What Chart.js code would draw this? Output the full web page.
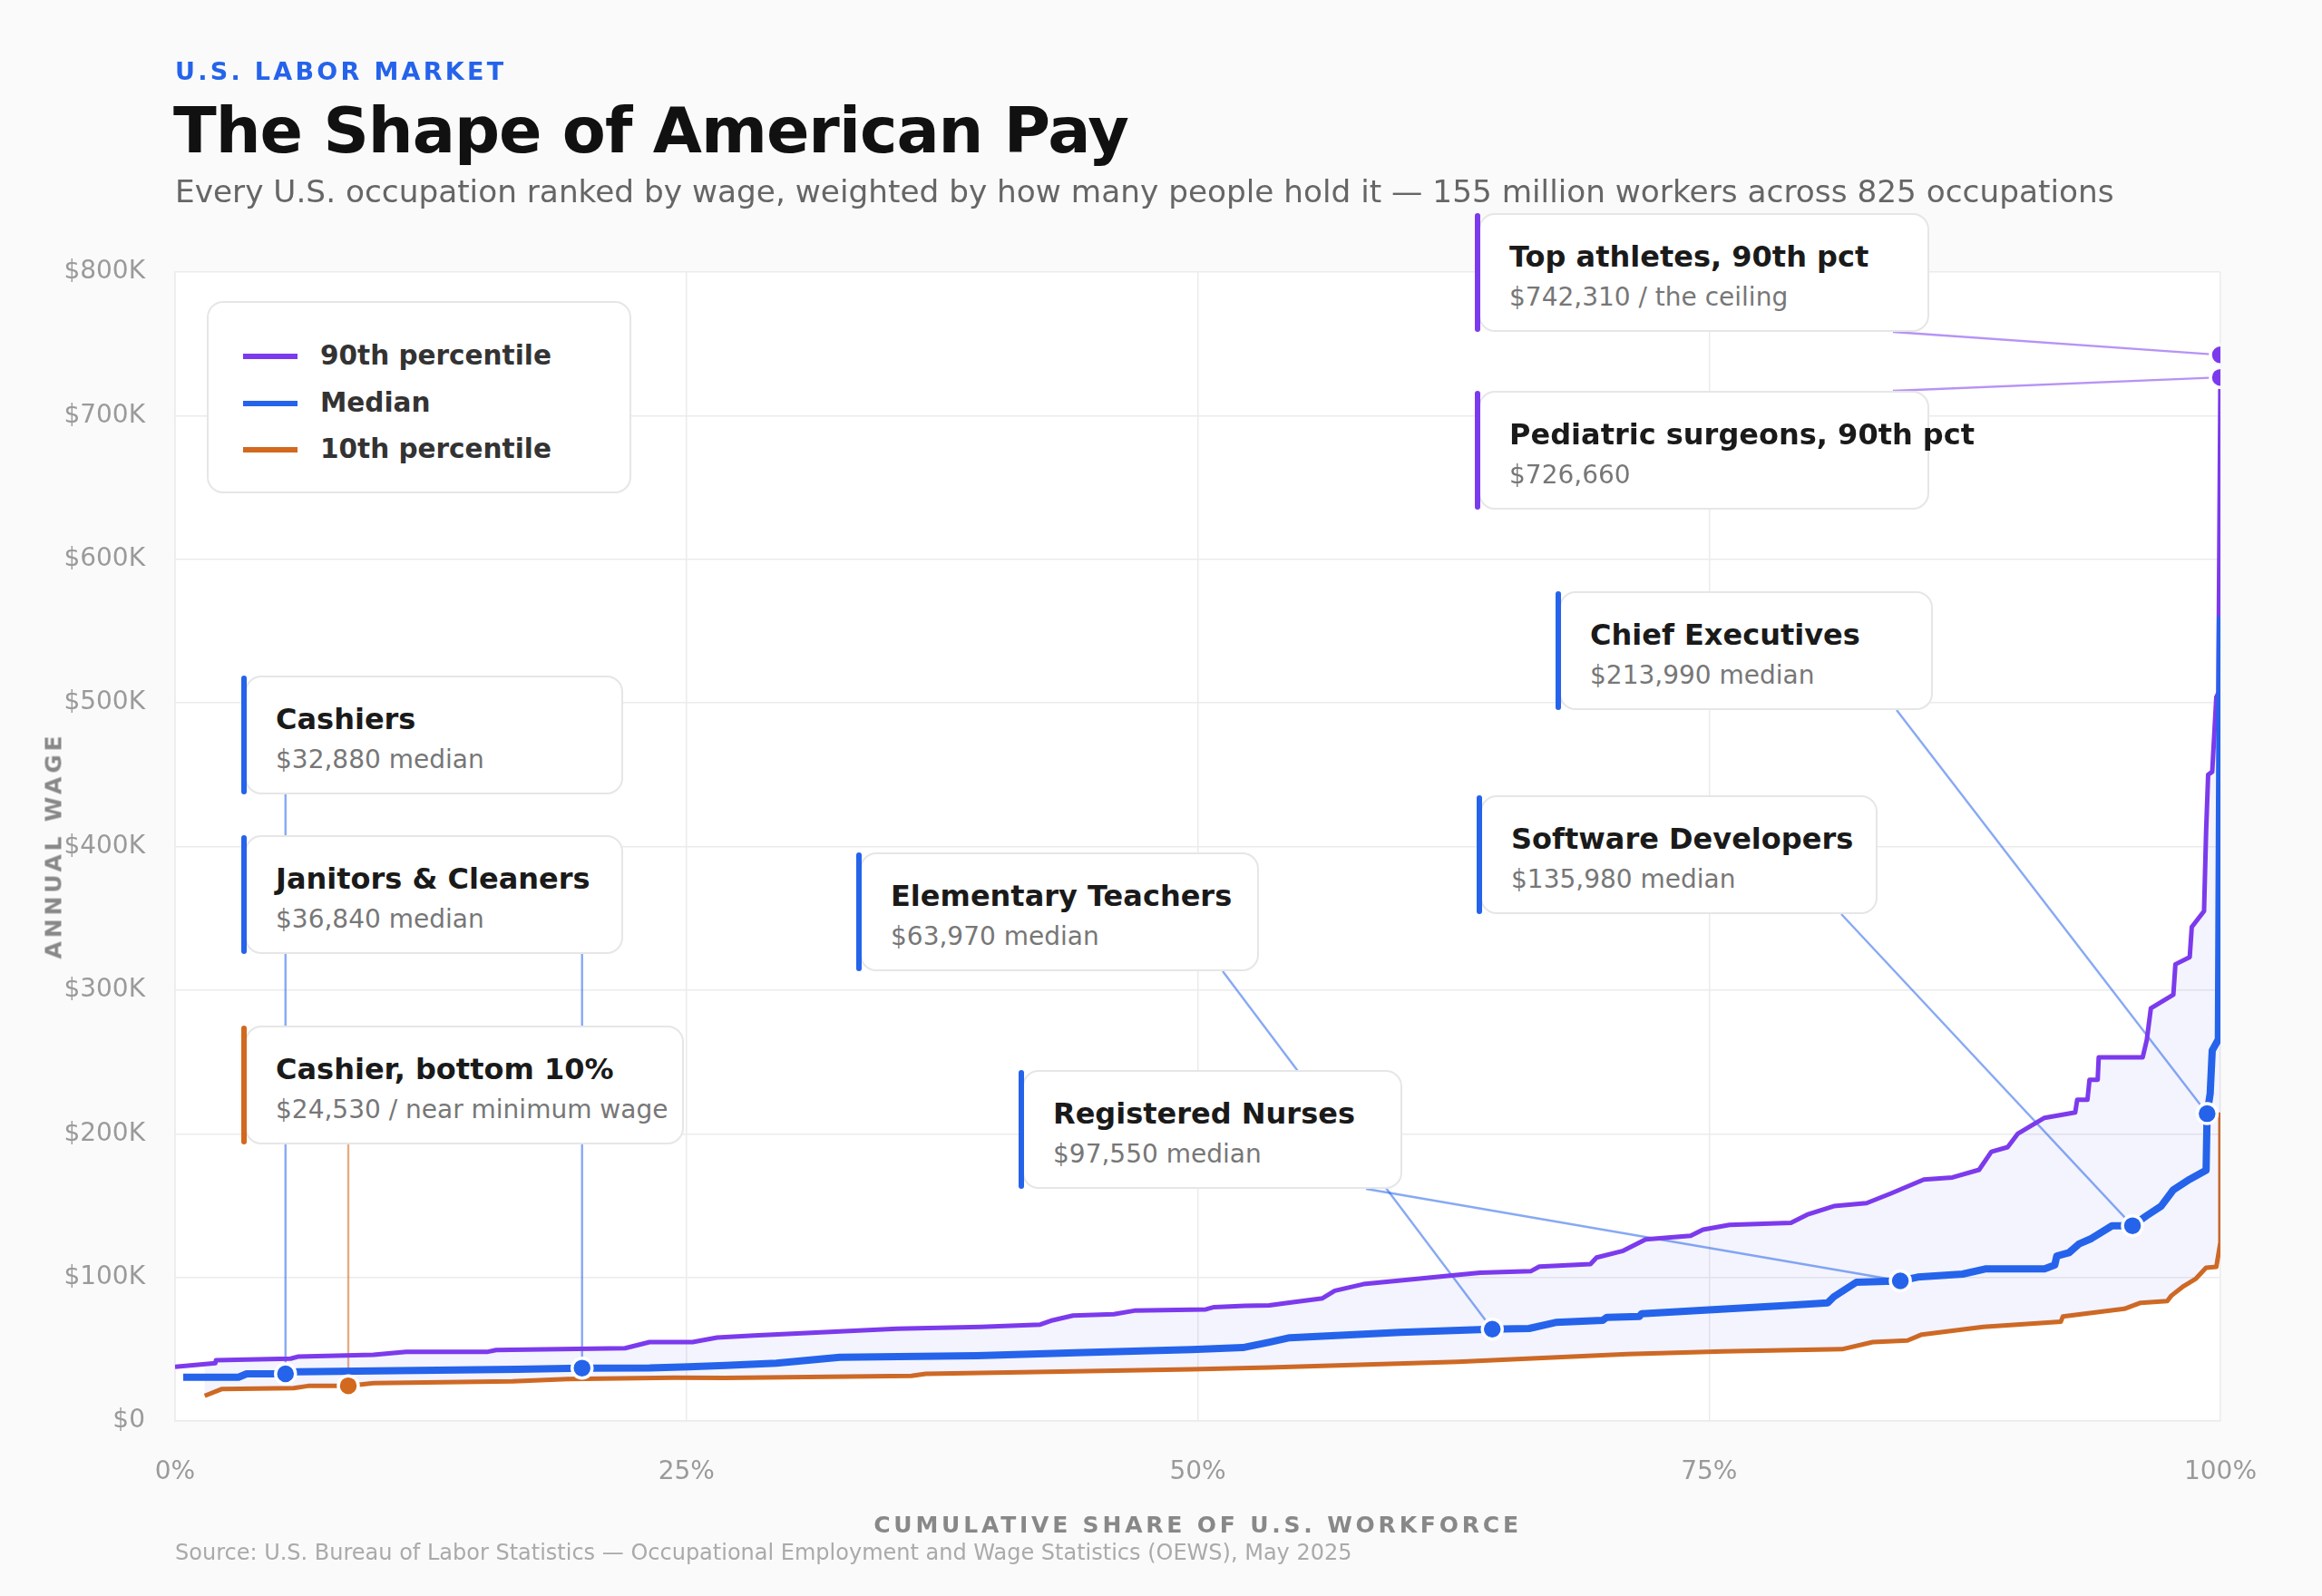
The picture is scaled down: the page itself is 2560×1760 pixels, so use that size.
<!DOCTYPE html>
<html>
<head>
<meta charset="utf-8">
<title>The Shape of American Pay</title>
<script src="https://cdn.jsdelivr.net/npm/chart.js@4.4.1/dist/chart.umd.min.js"></script>
<style>
  body { margin: 0; background: #fafafa; font-family: "DejaVu Sans", sans-serif; }
  #page { position: relative; width: 2560px; height: 1760px; overflow: hidden; }
  canvas { position: absolute; left: 0; top: 0; }
  .abs { position: absolute; white-space: nowrap; line-height: 1; }
  #eyebrow { left: 193px; top: 65px; font-size: 27px; font-weight: bold; color: #2563eb; letter-spacing: 3.3px; }
  #title { left: 191px; top: 109px; font-size: 70px; font-weight: bold; color: #111; letter-spacing: -1px; }
  #subtitle { left: 193px; top: 194px; font-size: 34.3px; color: #666; }
  #source { left: 193px; top: 1700px; font-size: 24px; color: #aaa; }
  #xtitle { left: 193px; width: 2255px; text-align: center; top: 1669px; font-size: 25px; font-weight: bold; color: #888; letter-spacing: 3.8px; }
  #ytitle { left: -141px; width: 400px; text-align: center; top: 920px; font-size: 25px; font-weight: bold; color: #888; letter-spacing: 3.8px; transform: rotate(-90deg); }

  #legend { position: absolute; left: 228px; top: 332px; width: 468px; height: 212px; box-sizing: border-box;
            background: #fff; border: 2px solid #e6e6e6; border-radius: 18px; }
  #legend .sw { position: absolute; left: 38px; width: 60px; height: 6px; }
  #legend .lb { position: absolute; left: 123px; font-size: 29.5px; font-weight: bold; color: #333; line-height: 1; white-space: nowrap; }

  .note { position: absolute; height: 131px; }
  .note .card { position: absolute; left: 4px; right: 0; top: 0; bottom: 0; box-sizing: border-box;
                background: #fff; border: 2px solid #e6e6e6; border-radius: 18px; }
  .note .bar { position: absolute; left: 0; top: 0; width: 6px; height: 100%; border-radius: 3px; }
  .note .t { position: absolute; left: 38px; top: 32px; font-size: 32px; font-weight: bold; color: #1a1a1a; line-height: 1; white-space: nowrap; }
  .note .s { position: absolute; left: 38px; top: 79px; font-size: 28px; color: #777; line-height: 1; white-space: nowrap; }
</style>
</head>
<body>
<div id="page">
  <canvas id="myChart" width="2560" height="1760"></canvas>

  <div id="eyebrow" class="abs">U.S. LABOR MARKET</div>
  <div id="title" class="abs">The Shape of American Pay</div>
  <div id="subtitle" class="abs">Every U.S. occupation ranked by wage, weighted by how many people hold it — 155 million workers across 825 occupations</div>

  <div id="legend"></div>

  <div id="xtitle" class="abs">CUMULATIVE SHARE OF U.S. WORKFORCE</div>
  <div id="ytitle" class="abs">ANNUAL WAGE</div>
  <div id="source" class="abs">Source: U.S. Bureau of Labor Statistics — Occupational Employment and Wage Statistics (OEWS), May 2025</div>
</div>

<script>
// cumulative share of workforce (%) and wage ($K) for each curve
const p90Share = [0, 1.97, 2.0, 5.65, 6.0, 9.7, 11.3, 15.3, 15.7, 22.0, 23.2, 25.3, 26.5, 28.3, 35.3, 39.4, 42.3, 42.9, 43.9, 45.9,
  46.9, 50.4, 50.8, 52.3, 53.5, 54.4, 56.1, 56.7, 58.1, 63.8, 66.3, 66.7, 69.2, 69.5, 70.8, 71.9, 74.1, 74.7, 76.0, 79.0,
  79.8, 81.1, 82.7, 83.9, 85.5, 86.9, 88.2, 88.8, 89.6, 90.1, 91.4, 92.9, 93.0, 93.5, 93.6, 94.0, 94.05, 96.2, 96.4, 96.6,
  97.7, 97.8, 98.5, 98.6, 99.2, 99.3, 99.4, 99.6, 99.8, 99.9, 100, 100]
const p90Wage = [37.7, 40.2, 42.3, 43.4, 44.8, 46.1, 48.2, 48.2, 49.4, 50.7, 54.9, 54.9, 58.1, 59.5, 64.2, 65.5, 67.1, 70.1, 73.4, 74.3,
  76.8, 77.7, 79.3, 80.2, 80.5, 82.3, 85.4, 90.7, 95.3, 103.3, 104.4, 107.5, 109.2, 113.8, 118.5, 126.5, 129.0, 133.2, 136.5, 138.0,
  143.7, 149.6, 151.7, 158.5, 168.1, 169.6, 174.9, 187.5, 190.7, 200.1, 211.1, 214.8, 223.7, 223.7, 237.6, 237.6, 253.2, 253.2, 265.3, 287.4,
  296.9, 318, 323, 344, 355, 410, 450, 452, 504, 507, 726.66, 742.31]

const medShare = [0.4, 3.1, 3.5, 5.4, 6.0, 16.7, 19.9, 23.2, 25.1, 26.9, 29.4, 32.5, 39.2, 44.4, 49.7, 52.2, 53.5, 54.5, 59.9, 64.4,
  66.2, 67.5, 69.8, 70.0, 71.6, 71.7, 74.6, 78.5, 80.8, 81.1, 82.2, 84.35, 85.2, 87.4, 88.5, 91.4, 91.9, 92.0, 92.6, 93.1,
  93.7, 94.7, 95.7, 96.4, 97.1, 97.7, 98.5, 99.3, 99.35, 99.5, 99.6, 99.9, 100]
const medWage = [30.5, 30.5, 32.8, 32.88, 34.3, 36.0, 36.84, 37.0, 37.7, 38.7, 40.2, 44.4, 45.5, 47.6, 49.7, 51.1, 54.9, 58.0, 61.7, 63.97,
  64.4, 68.6, 70.1, 72.2, 72.8, 74.7, 77.0, 80.2, 82.3, 86.5, 96.6, 97.55, 100.2, 102.3, 105.9, 105.9, 108.6, 114.9, 117.2, 123.4,
  127.1, 135.9, 135.98, 143, 149.6, 161, 168.3, 174.6, 213.99, 228, 258, 265.7, 560]

const p10Share = [1.45, 2.3, 5.8, 6.5, 8.47, 9.7, 16.5, 19.2, 24.4, 26.9, 36.0, 36.7, 42.7, 49.7, 53.5, 62.7, 71.0, 75.7, 81.5, 83.0,
  84.7, 85.4, 88.4, 92.2, 92.3, 95.3, 96.1, 97.4, 97.6, 98.2, 98.8, 99.3, 99.8, 100, 100]
const p10Wage = [17.5, 22.3, 22.9, 24.4, 24.53, 26.3, 27.6, 29.2, 30.1, 30.0, 31.4, 32.8, 34.3, 36.0, 37.3, 41.2, 46.5, 48.5, 50.0, 54.9,
  56.0, 60.2, 65.5, 69.2, 72.8, 78.1, 82.3, 83.5, 87.2, 93.9, 99.1, 106.7, 107.3, 124.4, 214.8]

// called-out occupations
const noteTitles = ["Top athletes, 90th pct", "Pediatric surgeons, 90th pct", "Chief Executives", "Software Developers",
  "Elementary Teachers", "Registered Nurses", "Cashiers", "Janitors & Cleaners", "Cashier, bottom 10%"]
const noteTexts = ["$742,310 / the ceiling", "$726,660", "$213,990 median", "$135,980 median",
  "$63,970 median", "$97,550 median", "$32,880 median", "$36,840 median", "$24,530 / near minimum wage"]
const noteShare = [100, 100, 99.35, 95.7, 64.4, 84.35, 5.4, 19.9, 8.47]
const noteWage = [742.31, 726.66, 213.99, 135.98, 63.97, 97.55, 32.88, 36.84, 24.53]
const noteSeries = ["p90", "p90", "med", "med", "med", "med", "med", "med", "p10"]

// where each callout box sits on the page: left, top, width
const noteBoxes = [[1626, 235, 501], [1626, 431, 501], [1715, 652, 416], [1628, 877, 442],
  [944, 940, 444], [1123, 1180, 423], [266, 745, 421], [266, 921, 421], [266, 1131, 488]]
const BOX_H = 131

const colors = { p90: "#7c3aed", med: "#2563eb", p10: "#d2691e" }
const fades = { p90: "rgba(124,58,237,0.55)", med: "rgba(37,99,235,0.55)", p10: "rgba(210,105,30,0.55)" }
const legendItems = [["90th percentile", "p90"], ["Median", "med"], ["10th percentile", "p10"]]

function toPoints(share, wage) {
  return share.map((s, i) => ({ x: s, y: wage[i] * 1000 }))
}

// legend
const legend = document.getElementById("legend")
legendItems.forEach((it, i) => {
  const sw = document.createElement("div")
  sw.className = "sw"
  sw.style.top = (56 + i * 51.5) + "px"
  sw.style.background = colors[it[1]]
  legend.appendChild(sw)
  const lb = document.createElement("div")
  lb.className = "lb"
  lb.style.top = (44 + i * 51.5) + "px"
  lb.textContent = it[0]
  legend.appendChild(lb)
})

// callout cards
const page = document.getElementById("page")
noteTitles.forEach((t, i) => {
  const b = noteBoxes[i]
  const n = document.createElement("div")
  n.className = "note"
  n.style.left = b[0] + "px"
  n.style.top = b[1] + "px"
  n.style.width = b[2] + "px"
  n.innerHTML = '<div class="card"></div><div class="bar"></div><div class="t"></div><div class="s"></div>'
  n.querySelector(".bar").style.background = colors[noteSeries[i]]
  n.querySelector(".t").textContent = t
  n.querySelector(".s").textContent = noteTexts[i]
  page.appendChild(n)
})

// white plot background
const plotBg = {
  id: "plotBg",
  beforeDraw(chart) {
    const { ctx, chartArea: a } = chart
    ctx.save()
    ctx.fillStyle = "#fff"
    ctx.fillRect(a.left, a.top, a.right - a.left, a.bottom - a.top)
    ctx.restore()
  }
}

// leader lines from each card to its point
const leaders = {
  id: "leaders",
  beforeDatasetsDraw(chart) {
    const ctx = chart.ctx
    const xs = chart.scales.x, ys = chart.scales.y
    ctx.save()
    ctx.lineWidth = 2.4
    noteShare.forEach((s, i) => {
      const px = xs.getPixelForValue(s)
      const py = ys.getPixelForValue(noteWage[i] * 1000)
      const [left, top, w] = noteBoxes[i]
      const ax = (px >= left && px <= left + w) ? px : left + w - 40
      const ay = py > top + BOX_H ? top + BOX_H : top
      ctx.strokeStyle = fades[noteSeries[i]]
      ctx.beginPath()
      ctx.moveTo(ax, ay)
      ctx.lineTo(px, py)
      ctx.stroke()
    })
    ctx.restore()
  }
}

Chart.defaults.font.family = "DejaVu Sans"

const lineStyle = { pointRadius: 0, borderJoinStyle: "round", borderCapStyle: "butt", tension: 0 }

const updatee = new Chart("myChart", {
  type: "line",
  data: {
    datasets: [{
        type: "scatter",
        label: "callouts",
        data: toPoints(noteShare, noteWage),
        pointRadius: 11,
        pointBackgroundColor: noteSeries.map(s => colors[s]),
        pointBorderColor: "#fff",
        pointBorderWidth: 3.5,
        order: 0
      }, {
        label: "Median",
        data: toPoints(medShare, medWage),
        borderColor: colors.med,
        borderWidth: 8,
        fill: false,
        order: 1,
        ...lineStyle
      }, {
        label: "90th percentile",
        data: toPoints(p90Share, p90Wage),
        borderColor: colors.p90,
        borderWidth: 5,
        backgroundColor: "rgba(99,102,241,0.075)",
        fill: 3,
        order: 2,
        ...lineStyle
      }, {
        label: "10th percentile",
        data: toPoints(p10Share, p10Wage),
        borderColor: colors.p10,
        borderWidth: 5,
        fill: false,
        order: 3,
        ...lineStyle
      }
    ]
  },
  options: {
    responsive: false,
    animation: false,
    devicePixelRatio: 1,
    layout: { padding: { top: 300, right: 112, bottom: 0, left: 0 } },
    plugins: {
      legend: { display: false },
      tooltip: { enabled: false }
    },
    scales: {
      x: {
        type: "linear",
        min: 0,
        max: 100,
        afterFit: s => { s.height = 193 },
        grid: { color: "#ebebeb", lineWidth: 1.5, drawTicks: false },
        border: { color: "#ebebeb", width: 1.5 },
        ticks: {
          stepSize: 25,
          padding: 40,
          color: "#9a9a9a",
          font: { size: 28 },
          maxRotation: 0,
          callback: v => v + "%"
        }
      },
      y: {
        min: 0,
        max: 800000,
        afterFit: s => { s.width = 193 },
        grid: { color: "#ebebeb", lineWidth: 1.5, drawTicks: false },
        border: { color: "#ebebeb", width: 1.5 },
        ticks: {
          stepSize: 100000,
          padding: 33,
          color: "#9a9a9a",
          font: { size: 28 },
          callback: v => v === 0 ? "$0" : "$" + (v / 1000) + "K"
        }
      }
    }
  },
  plugins: [plotBg, leaders]
})
</script>
</body>
</html>
